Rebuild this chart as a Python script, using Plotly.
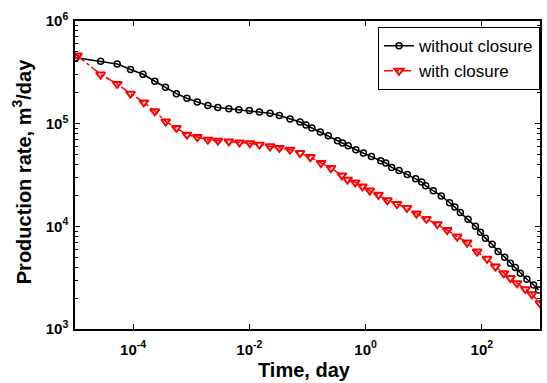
import plotly.graph_objects as go

# Data
t_without = [1.04e-5, 2.76e-5, 5.32e-5, 9.02e-5, 1.48e-4, 2.36e-4, 3.6e-4, 5.55e-4, 8.43e-4, 1.27e-3,
             1.93e-3, 2.87e-3, 4.43e-3, 6.58e-3, 1.0e-2, 1.49e-2, 2.27e-2, 3.28e-2, 5.01e-2, 7.43e-2,
             9.42e-2, 0.119, 0.166, 0.228, 0.328, 0.400, 0.501, 0.679, 0.916, 1.26,
             1.82, 2.22, 2.81, 3.76, 5.21, 7.26, 9.20, 10.8, 14.6, 20.0,
             27.8, 34.3, 42.6, 57.8, 77.6, 94.6, 115, 150, 190, 247,
             310, 377, 459, 596, 776, 946]
q_without = [4.38e5, 4.06e5, 3.82e5, 3.37e5, 3.03e5, 2.59e5, 2.26e5, 1.96e5, 1.77e5, 1.63e5,
             1.50e5, 1.44e5, 1.40e5, 1.37e5, 1.34e5, 1.30e5, 1.26e5, 1.20e5, 1.11e5, 1.04e5,
             9.71e4, 9.08e4, 8.30e4, 7.64e4, 6.83e4, 6.49e4, 6.10e4, 5.57e4, 5.17e4, 4.80e4,
             4.36e4, 4.14e4, 3.75e4, 3.50e4, 3.20e4, 2.90e4, 2.70e4, 2.48e4, 2.22e4, 1.98e4,
             1.70e4, 1.54e4, 1.36e4, 1.17e4, 1.0e4, 8.77e3, 7.67e3, 6.70e3, 5.68e3, 5.01e3,
             4.38e3, 3.97e3, 3.49e3, 3.05e3, 2.69e3, 2.40e3]

t_with = [1.1e-5, 2.76e-5, 5.32e-5, 9.02e-5, 1.53e-4, 2.36e-4, 3.64e-4, 5.55e-4, 8.43e-4, 1.27e-3,
          1.93e-3, 2.87e-3, 4.43e-3, 6.76e-3, 1.02e-2, 1.49e-2, 2.27e-2, 3.28e-2, 5.01e-2, 7.43e-2,
          0.112, 0.171, 0.253, 0.391, 0.488, 0.661, 0.881, 1.18, 1.66, 2.37,
          3.47, 5.15, 7.50, 11.1, 17.1, 25.3, 37.6, 55.7, 82.8, 123,
          171, 238, 310, 402, 560, 726, 1000]
q_with = [4.60e5, 3.01e5, 2.44e5, 1.96e5, 1.61e5, 1.32e5, 1.05e5, 9.08e4, 7.81e4, 7.41e4,
          6.98e4, 6.83e4, 6.72e4, 6.57e4, 6.45e4, 6.24e4, 6.01e4, 5.80e4, 5.58e4, 5.18e4,
          4.73e4, 4.14e4, 3.70e4, 3.13e4, 2.85e4, 2.68e4, 2.45e4, 2.23e4, 2.03e4, 1.79e4,
          1.65e4, 1.51e4, 1.33e4, 1.18e4, 1.05e4, 9.20e3, 7.94e3, 6.95e3, 5.68e3, 4.82e3,
          4.06e3, 3.49e3, 3.13e3, 2.79e3, 2.44e3, 2.18e3, 1.78e3]

x_tickvals = [1e-4, 1e-2, 1e0, 1e2]
x_ticktext = ["<b>10<sup>-4</sup></b>", "<b>10<sup>-2</sup></b>", "<b>10<sup>0</sup></b>", "<b>10<sup>2</sup></b>"]
y_tickvals = [1e3, 1e4, 1e5, 1e6]
y_ticktext = ["<b>10<sup>3</sup></b>", "<b>10<sup>4</sup></b>", "<b>10<sup>5</sup></b>", "<b>10<sup>6</sup></b>"]

FONT = "Liberation Sans, Arial, sans-serif"

fig = go.Figure()
fig.add_trace(go.Scatter(
    x=t_without, y=q_without, name="without closure", mode="lines+markers",
    line=dict(color="black", width=1.5),
    marker=dict(symbol="circle-open", size=6, color="black", line=dict(width=1.5)),
))
fig.add_trace(go.Scatter(
    x=t_with, y=q_with, name="with closure", mode="lines+markers",
    line=dict(color="red", width=1.5, dash="dashdot"),
    marker=dict(symbol="triangle-down-open", size=8, color="red", line=dict(width=2)),
))

fig.update_layout(
    width=547, height=383,
    margin=dict(l=75, r=5, t=21, b=54),
    paper_bgcolor="white", plot_bgcolor="white",
    font=dict(family=FONT, color="black"),
    showlegend=True,
    legend=dict(x=1, xanchor="right", y=0.98, yanchor="top",
                bordercolor="black", borderwidth=1, bgcolor="white",
                font=dict(size=17, family=FONT), tracegroupgap=0),
)
fig.update_xaxes(
    type="log", range=[-5, 3],
    tickvals=x_tickvals, ticktext=x_ticktext,
    tickfont=dict(size=15, family=FONT), ticklabelstandoff=6,
    ticks="inside", ticklen=5, tickcolor="black",
    showline=True, linecolor="black", linewidth=1.5, mirror="ticks",
    showgrid=False, zeroline=False,
)
fig.update_yaxes(
    type="log", range=[3, 6],
    tickvals=y_tickvals, ticktext=y_ticktext,
    tickfont=dict(size=15, family=FONT), ticklabelstandoff=2,
    ticks="inside", ticklen=5, tickcolor="black",
    minor=dict(ticks="inside", ticklen=3, tickcolor="black", dtick="D1", showgrid=False),
    showline=True, linecolor="black", linewidth=1.5, mirror="ticks",
    showgrid=False, zeroline=False,
)

fig.add_annotation(
    text="<b>Time, day</b>", xref="paper", yref="paper",
    x=(305 - 75) / 467, y=(329 - 370) / 308, xanchor="center", yanchor="middle",
    showarrow=False, font=dict(size=20, family=FONT),
)
fig.add_annotation(
    text="<b>Production rate, m<sup>3</sup>/day</b>", xref="paper", yref="paper",
    x=(21 - 75) / 467, y=(329 - 172) / 308, xanchor="center", yanchor="middle", textangle=-90,
    showarrow=False, font=dict(size=20, family=FONT),
)

fig.write_html("out.html")
